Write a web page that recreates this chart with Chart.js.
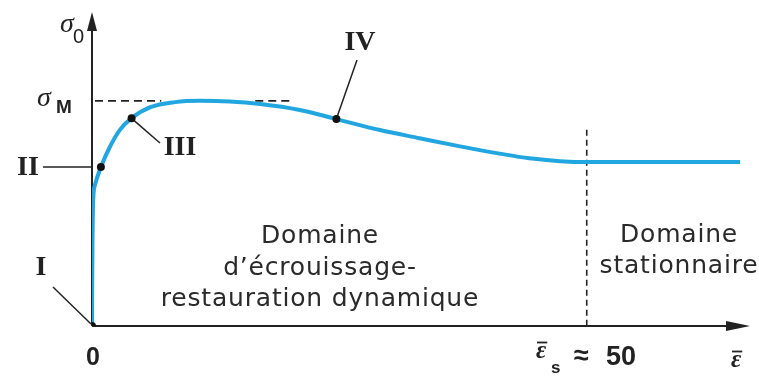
<!DOCTYPE html>
<html><head><meta charset="utf-8">
<script src="https://cdn.jsdelivr.net/npm/chart.js@4"></script>
<style>html,body{margin:0;padding:0;background:#fff}#w{width:759px;height:376px;position:relative}</style>
</head><body><div id="w"><canvas id="c"></canvas></div>
<script>
// strain (ε̄) and flow stress (σ0)
const strain = [0, 0.02, 0.05, 0.12, 0.3, 0.9, 1.8, 2.8, 4.0, 5.9, 8.4, 10.9, 13.9, 17.0, 21.0, 24.7, 29.1, 33.1, 37.2, 41.2, 44.2, 47.3, 50, 65.5];
const stress = [0, 14.6, 27.4, 40.1, 44.9, 50.6, 57.0, 62.4, 66.2, 69.7, 71.3, 71.7, 71.5, 70.7, 68.8, 65.9, 62.4, 59.8, 57.2, 54.9, 53.4, 52.5, 52.2, 52.2];
// marked points I–IV
const markLabels = ["I", "II", "III", "IV"];
const markStrain = [0, 0.9, 4.0, 24.7];
const markStress = [0, 50.6, 66.2, 65.9];
// special values
const sigmaM = 71.7;
const strainS = 50;
const xTickLabels = ["0", "≈", "50"];
const xMax = 66.5, yMax = 100;
const domainLeft = ["Domaine", "d’écrouissage-", "restauration dynamique"];
const domainRight = ["Domaine", "stationnaire"];

const ink = "#222";
const serif = "'Liberation Serif', 'DejaVu Serif', serif";
const sans = "'Liberation Sans', Arial, sans-serif";

function arrowHead(ctx, x, y, dir) {
  ctx.beginPath();
  if (dir === 'up') { ctx.moveTo(x, y); ctx.lineTo(x - 5, y + 19); ctx.lineTo(x + 5, y + 19); }
  else { ctx.moveTo(x, y); ctx.lineTo(x - 24, y - 5); ctx.lineTo(x - 24, y + 5); }
  ctx.closePath(); ctx.fill();
}
function line(ctx, x1, y1, x2, y2, w) {
  ctx.lineWidth = w; ctx.beginPath(); ctx.moveTo(x1, y1); ctx.lineTo(x2, y2); ctx.stroke();
}
function epsBar(ctx, txt, x, y, size) {
  ctx.font = "italic bold " + size + "px " + serif;
  ctx.textAlign = "left"; ctx.textBaseline = "alphabetic";
  ctx.fillText(txt, x, y);
  const w = ctx.measureText(txt).width;
  ctx.lineWidth = 1.8;
  ctx.beginPath(); ctx.moveTo(x + 1, y - size * 0.62); ctx.lineTo(x + w + 1, y - size * 0.62); ctx.stroke();
  return w;
}

const decor = {
  id: 'decor',
  beforeDatasetsDraw(chart) {
    const ctx = chart.ctx, xs = chart.scales.x, ys = chart.scales.y;
    const x0 = xs.getPixelForValue(0), y0 = ys.getPixelForValue(0);
    const xE = xs.getPixelForValue(xMax), yT = ys.getPixelForValue(yMax);
    ctx.save();
    ctx.strokeStyle = ink; ctx.fillStyle = ink;
    // axes
    line(ctx, x0, y0, xE - 10, y0, 2);
    line(ctx, x0, y0, x0, yT + 10, 2);
    arrowHead(ctx, xE, y0, 'right');
    arrowHead(ctx, x0, yT, 'up');
    // dashed lines
    ctx.setLineDash([8, 5]);
    const yM = ys.getPixelForValue(sigmaM);
    line(ctx, x0 + 3, yM, xs.getPixelForValue(7), yM, 1.6);
    line(ctx, xs.getPixelForValue(16.5), yM, xs.getPixelForValue(20.2), yM, 1.6);
    ctx.setLineDash([6, 4]);
    const xS = xs.getPixelForValue(strainS);
    line(ctx, xS, ys.getPixelForValue(62.5), xS, y0, 1.6);
    ctx.setLineDash([]);
    // leaders
    const p = i => [xs.getPixelForValue(markStrain[i]), ys.getPixelForValue(markStress[i])];
    let q = p(0); line(ctx, 53, 287, q[0] - 1, q[1] - 2, 1.5);
    q = p(1); line(ctx, 43, q[1], x0, q[1], 1.5);
    q = p(2); line(ctx, q[0] + 2, q[1] + 2, 160, 143, 1.5);
    q = p(3); line(ctx, q[0] + 1, q[1] - 3, 357, 60, 1.5);
    ctx.restore();
  },
  afterDatasetsDraw(chart) {
    const ctx = chart.ctx, xs = chart.scales.x, ys = chart.scales.y;
    const x0 = xs.getPixelForValue(0), y0 = ys.getPixelForValue(0);
    ctx.save();
    ctx.fillStyle = ink; ctx.strokeStyle = ink;
    // roman numerals
    ctx.font = "bold 28px " + serif; ctx.textBaseline = "middle"; ctx.textAlign = "center";
    ctx.fillText(markLabels[0], 41, 268);
    ctx.fillText(markLabels[1], 28, 168);
    ctx.fillText(markLabels[2], 180, 148);
    ctx.fillText(markLabels[3], 360, 43);
    // sigma labels
    ctx.textAlign = "left"; ctx.textBaseline = "alphabetic";
    ctx.font = "italic 28px " + serif; ctx.fillText("σ", 60, 32);
    ctx.font = "20px " + sans; ctx.fillText("0", 73, 43);
    ctx.font = "italic 28px " + serif; ctx.fillText("σ", 37, 106);
    ctx.font = "bold 19px " + sans; ctx.fillText("M", 56, 113);
    // x tick labels
    ctx.font = "bold 25px " + sans; ctx.textAlign = "center";
    ctx.fillText(xTickLabels[0], x0 + 1, 365);
    epsBar(ctx, "ε", 536, 358, 25);
    ctx.font = "bold 17px " + sans; ctx.textAlign = "left"; ctx.fillText("s", 551, 373);
    ctx.font = "bold 27px " + sans; ctx.fillText(xTickLabels[1], 574, 364);
    ctx.fillText(xTickLabels[2], 606, 365);
    epsBar(ctx, "ε", 731, 367, 25);
    // domain texts
    ctx.font = "25px 'DejaVu Sans', sans-serif"; ctx.letterSpacing = "0.8px";
    ctx.fillStyle = "#2a2a2a"; ctx.textAlign = "center"; ctx.textBaseline = "alphabetic";
    domainLeft.forEach((t, i) => ctx.fillText(t, 320, 243 + i * 31.5));
    domainRight.forEach((t, i) => ctx.fillText(t, 679, 242 + i * 31));
    ctx.restore();
  }
};

new Chart(document.getElementById('c'), {
  type: 'line',
  data: {
    datasets: [
      { data: strain.map((x, i) => ({ x, y: stress[i] })), borderColor: '#22a6e0', borderWidth: 4,
        pointRadius: 0, cubicInterpolationMode: 'monotone', fill: false, order: 2 },
      { data: markStrain.map((x, i) => ({ x, y: markStress[i] })), showLine: false,
        pointRadius: 4, pointBackgroundColor: '#111', pointBorderWidth: 0, order: 1 }
    ]
  },
  options: {
    responsive: true, maintainAspectRatio: false, animation: false,
    layout: { padding: { left: 92, right: 9, top: 12, bottom: 50 } },
    plugins: { legend: { display: false }, tooltip: { enabled: false } },
    scales: {
      x: { type: 'linear', min: 0, max: xMax, display: false },
      y: { min: 0, max: yMax, display: false }
    }
  },
  plugins: [decor]
});
</script></body></html>
